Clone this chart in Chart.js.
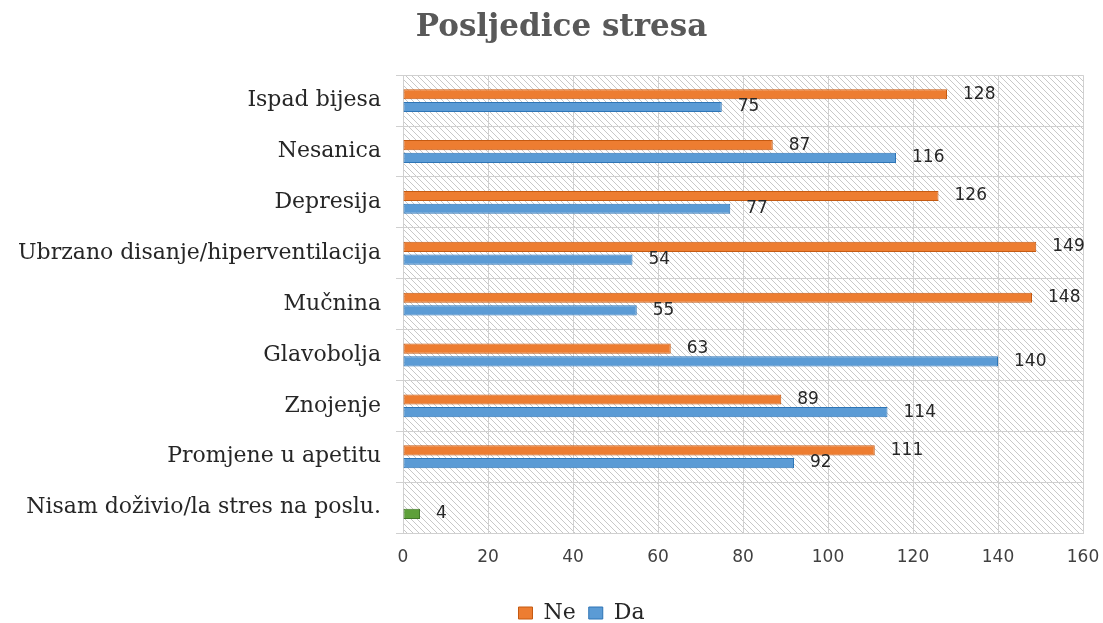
<!DOCTYPE html>
<html>
<head>
<meta charset="utf-8">
<script src="https://cdn.jsdelivr.net/npm/chart.js@4.4.0/dist/chart.umd.min.js"></script>
<style>
  html, body { margin: 0; padding: 0; background: #fff; }
  #wrap { width: 1103px; height: 623px; }
</style>
</head>
<body>
<div id="wrap"><canvas id="chart"></canvas></div>
<script>
const categories = ['Ispad bijesa', 'Nesanica', 'Depresija', 'Ubrzano disanje/hiperventilacija', 'Mučnina', 'Glavobolja', 'Znojenje', 'Promjene u apetitu', 'Nisam doživio/la stres na poslu.'];
const neValues = [128, 87, 126, 149, 148, 63, 89, 111, null];
const daValues = [75, 116, 77, 54, 55, 140, 114, 92, 4];
const xTicks = [0, 20, 40, 60, 80, 100, 120, 140, 160];

const gridColor = '#d0d0d0';

// diagonal hatch behind the plot area, like the Excel fill
const hatchPlugin = {
  id: 'hatch',
  beforeDraw(chart) {
    const { ctx, chartArea: a } = chart;
    const tile = document.createElement('canvas');
    tile.width = 6; tile.height = 6;
    const t = tile.getContext('2d');
    t.strokeStyle = '#c8c8c8';
    t.lineWidth = 1;
    t.beginPath();
    t.moveTo(-1, -1); t.lineTo(7, 7);
    t.moveTo(-1, 5); t.lineTo(1, 7);
    t.moveTo(5, -1); t.lineTo(7, 1);
    t.stroke();
    ctx.save();
    ctx.fillStyle = '#fff';
    ctx.fillRect(a.left, a.top, a.right - a.left, a.bottom - a.top);
    ctx.fillStyle = ctx.createPattern(tile, 'repeat');
    ctx.fillRect(a.left, a.top, a.right - a.left, a.bottom - a.top);
    ctx.restore();
  }
};

// title and legend sit a bit right of the canvas centre in the original
const nudge = {
  id: 'nudge',
  afterLayout(chart) {
    if (chart.titleBlock) { chart.titleBlock.left += 20; chart.titleBlock.right += 20; }
    if (chart.legend) { chart.legend.left += 40; chart.legend.right += 40; }
  }
};

const valueLabels = {
  id: 'valueLabels',
  afterDatasetsDraw(chart) {
    const ctx = chart.ctx;
    ctx.save();
    ctx.font = '17px "DejaVu Sans"';
    ctx.fillStyle = '#262626';
    ctx.textAlign = 'left';
    ctx.textBaseline = 'middle';
    chart.data.datasets.forEach((ds, i) => {
      chart.getDatasetMeta(i).data.forEach((bar, j) => {
        if (ds.data[j] == null) return;
        ctx.fillText(ds.data[j], bar.x + 16, bar.y);
      });
    });
    ctx.restore();
  }
};

const lastIdx = categories.length - 1;

new Chart(document.getElementById('chart'), {
  type: 'bar',
  data: {
    labels: categories,
    datasets: [
      {
        label: 'Ne',
        data: neValues,
        backgroundColor: '#ED7D31',
        borderColor: '#C55A11',
        borderWidth: 1,
        borderSkipped: false
      },
      {
        label: 'Da',
        data: daValues,
        backgroundColor: c => c.dataIndex === lastIdx ? '#5EA03A' : '#5B9BD5',
        borderColor: c => c.dataIndex === lastIdx ? '#43782A' : '#2E75B6',
        borderWidth: 1,
        borderSkipped: false
      }
    ]
  },
  options: {
    indexAxis: 'y',
    responsive: true,
    maintainAspectRatio: false,
    animation: false,
    categoryPercentage: 0.5,
    barPercentage: 0.8,
    layout: { padding: { top: 9, right: 20, bottom: -11, left: 0 } },
    scales: {
      x: {
        min: 0,
        max: 160,
        afterBuildTicks: s => { s.ticks = xTicks.map(v => ({ value: v })); },
        afterFit: s => { s.height = 56; s.paddingLeft = 0; s.paddingRight = 0; },
        grid: { color: gridColor, drawTicks: false },
        border: { color: gridColor },
        ticks: {
          padding: 14,
          color: '#404040',
          font: { family: 'DejaVu Sans', size: 17 }
        }
      },
      y: {
        afterFit: s => { s.width = 403; },
        grid: { color: gridColor, offset: true, tickLength: 7 },
        border: { color: gridColor },
        ticks: {
          padding: 15,
          color: '#262626',
          font: { family: 'DejaVu Serif', size: 22 }
        }
      }
    },
    plugins: {
      title: {
        display: true,
        text: 'Posljedice stresa',
        color: '#595959',
        font: { family: 'DejaVu Serif', size: 31, weight: 'bold' },
        padding: { top: 0, bottom: 29 }
      },
      legend: {
        position: 'bottom',
        labels: {
          boxWidth: 14,
          boxHeight: 12,
          padding: 13,
          color: '#262626',
          font: { family: 'DejaVu Serif', size: 22 }
        }
      },
      tooltip: { enabled: false }
    }
  },
  plugins: [hatchPlugin, nudge, valueLabels]
});
</script>
</body>
</html>
